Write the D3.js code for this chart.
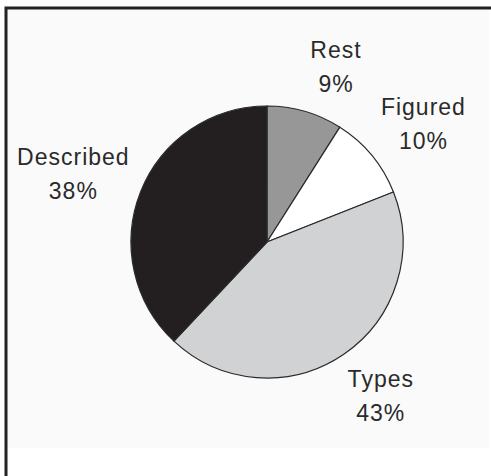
<!DOCTYPE html>
<html>
<head>
<meta charset="utf-8">
<script src="https://cdn.jsdelivr.net/npm/d3@7"></script>
<style>
  body { margin: 0; background: #fff; }
  svg { display: block; }
  .lbl { font-family: "Liberation Sans", Arial, sans-serif; font-size: 23px; letter-spacing: 1px; fill: #2a2a2a; }
</style>
</head>
<body>
<div id="chart"></div>
<script>
// share of specimens, clockwise from 12 o'clock
const categories = ["Rest", "Figured", "Types", "Described"];
const shares = [9, 10, 43, 38];
const pctLabels = ["9%", "10%", "43%", "38%"];

const width = 491, height = 476;
const cx = 267, cy = 242, radius = 136;

// colours per slice
const fills = ["#979797", "#ffffff", "#d1d2d4", "#231f20"];
// small label tweaks off the label arc (Excel best-fit spots)
const nudge = { Rest: [16, -2], Figured: [10, -6], Types: [7, -12], Described: [-17, -7] };

const svg = d3.select("#chart")
  .append("svg")
  .attr("width", width)
  .attr("height", height)
  .attr("viewBox", [0, 0, width, height]);

// plot area background + frame (only top and left edges show)
svg.append("rect")
  .attr("x", 6).attr("y", 8)
  .attr("width", 483).attr("height", 440)
  .attr("fill", "#fafafa");
svg.append("path")
  .attr("d", `M6,${height} V8 H${width}`)
  .attr("fill", "none")
  .attr("stroke", "#232323")
  .attr("stroke-width", 3);

const data = categories.map((c, i) => ({ name: c, value: shares[i], pct: pctLabels[i] }));

const pie = d3.pie().sort(null).value(d => d.value);
const arc = d3.arc().innerRadius(0).outerRadius(radius);
const labelArc = d3.arc().innerRadius(190).outerRadius(190);

const g = svg.append("g").attr("transform", `translate(${cx},${cy})`);

g.selectAll("path.slice")
  .data(pie(data))
  .join("path")
  .attr("class", "slice")
  .attr("d", arc)
  .attr("fill", (d, i) => fills[i])
  .attr("stroke", "#2a2a2a")
  .attr("stroke-width", 1.2);

const labels = g.selectAll("text.lbl")
  .data(pie(data))
  .join("text")
  .attr("class", "lbl")
  .attr("text-anchor", "middle")
  .attr("transform", d => {
    const [x, y] = labelArc.centroid(d);
    const [nx, ny] = nudge[d.data.name];
    return `translate(${x + nx},${y + ny})`;
  });

labels.append("tspan").attr("x", 0).attr("y", 0).text(d => d.data.name);
labels.append("tspan").attr("x", 0).attr("y", 34).text(d => d.data.pct);
</script>
</body>
</html>
